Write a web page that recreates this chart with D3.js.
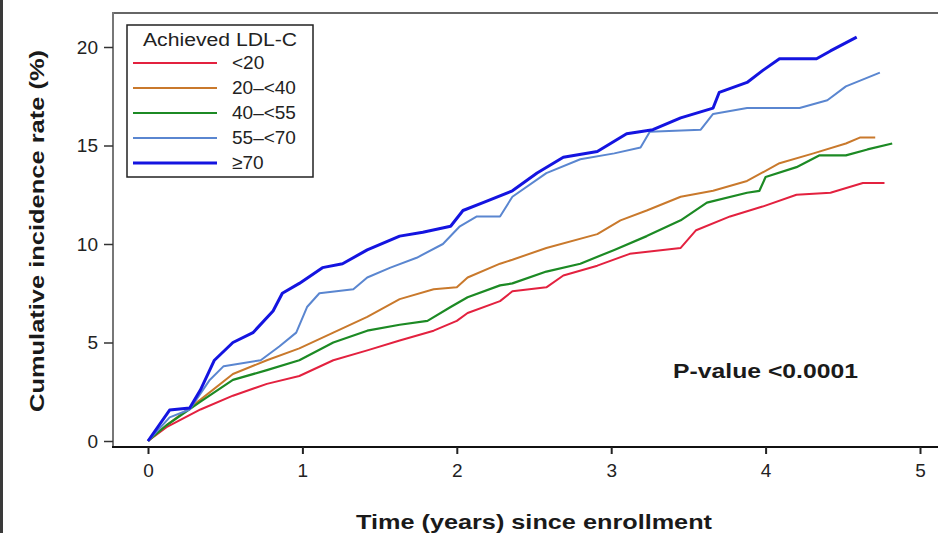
<!DOCTYPE html>
<html>
<head>
<meta charset="utf-8">
<script src="https://cdn.jsdelivr.net/npm/d3@7"></script>
<style>
  body { margin: 0; background: #fff; }
  svg { display: block; font-family: "Liberation Sans", Arial, sans-serif; }
</style>
</head>
<body>
<div id="chart"></div>
<script>
// Data (time in years, cumulative incidence in %)
const groups = ["<20", "20\u2013<40", "40\u2013<55", "55\u2013<70", "\u226570"];
const colors = ["#e3213f", "#c9792c", "#1c8a24", "#5a86d0", "#1414e0"];
const widths = [2, 2, 2.2, 2, 3];

const tRed = [0, 0.12, 0.34, 0.55, 0.77, 0.98, 1.2, 1.42, 1.63, 1.85, 2.0, 2.07, 2.28, 2.36, 2.58, 2.69, 2.91, 3.12, 3.45, 3.55, 3.77, 3.98, 4.2, 4.42, 4.63, 4.77];
const vRed = [0, 0.7, 1.6, 2.3, 2.9, 3.3, 4.1, 4.6, 5.1, 5.6, 6.1, 6.5, 7.1, 7.6, 7.8, 8.4, 8.9, 9.5, 9.8, 10.7, 11.4, 11.9, 12.5, 12.6, 13.1, 13.1];

const tOrange = [0, 0.12, 0.34, 0.55, 0.77, 0.98, 1.2, 1.42, 1.63, 1.85, 2.0, 2.07, 2.28, 2.36, 2.58, 2.91, 3.06, 3.23, 3.45, 3.66, 3.88, 4.09, 4.31, 4.52, 4.61, 4.71];
const vOrange = [0, 0.8, 2.1, 3.4, 4.1, 4.7, 5.5, 6.3, 7.2, 7.7, 7.8, 8.3, 9.0, 9.2, 9.8, 10.5, 11.2, 11.7, 12.4, 12.7, 13.2, 14.1, 14.6, 15.1, 15.4, 15.4];

const tGreen = [0, 0.12, 0.34, 0.55, 0.77, 0.98, 1.2, 1.42, 1.63, 1.81, 1.96, 2.07, 2.28, 2.36, 2.58, 2.8, 3.02, 3.23, 3.45, 3.62, 3.88, 3.96, 4.0, 4.2, 4.35, 4.52, 4.66, 4.82];
const vGreen = [0, 0.8, 2.0, 3.1, 3.6, 4.1, 5.0, 5.6, 5.9, 6.1, 6.8, 7.3, 7.9, 8.0, 8.6, 9.0, 9.7, 10.4, 11.2, 12.1, 12.6, 12.7, 13.4, 13.9, 14.5, 14.5, 14.8, 15.1];

const tLight = [0, 0.14, 0.27, 0.4, 0.49, 0.73, 0.85, 0.96, 1.03, 1.11, 1.33, 1.42, 1.57, 1.74, 1.91, 2.02, 2.13, 2.28, 2.36, 2.58, 2.8, 3.02, 3.19, 3.25, 3.58, 3.66, 3.88, 4.22, 4.4, 4.52, 4.74];
const vLight = [0, 1.2, 1.6, 3.1, 3.8, 4.1, 4.8, 5.5, 6.8, 7.5, 7.7, 8.3, 8.8, 9.3, 10.0, 10.9, 11.4, 11.4, 12.4, 13.6, 14.3, 14.6, 14.9, 15.7, 15.8, 16.6, 16.9, 16.9, 17.3, 18.0, 18.7];

const tBlue = [0, 0.14, 0.27, 0.34, 0.43, 0.55, 0.68, 0.81, 0.87, 0.98, 1.13, 1.26, 1.42, 1.63, 1.78, 1.96, 2.04, 2.17, 2.36, 2.52, 2.69, 2.91, 3.1, 3.27, 3.45, 3.66, 3.7, 3.88, 3.98, 4.09, 4.33, 4.42, 4.59];
const vBlue = [0, 1.57, 1.67, 2.6, 4.1, 5.0, 5.5, 6.6, 7.5, 8.0, 8.8, 9.0, 9.7, 10.4, 10.6, 10.9, 11.7, 12.1, 12.7, 13.6, 14.4, 14.7, 15.6, 15.8, 16.4, 16.9, 17.7, 18.2, 18.8, 19.4, 19.4, 19.8, 20.5];

const xTicks = [0, 1, 2, 3, 4, 5];
const yTicks = [0, 5, 10, 15, 20];

const series = [
  d3.zip(tRed, vRed),
  d3.zip(tOrange, vOrange),
  d3.zip(tGreen, vGreen),
  d3.zip(tLight, vLight),
  d3.zip(tBlue, vBlue)
];

const width = 938, height = 533;
const svg = d3.select("#chart").append("svg")
  .attr("width", width)
  .attr("height", height);

const x = d3.scaleLinear().domain([0, 5]).range([148, 920]);
const y = d3.scaleLinear().domain([0, 20]).range([441, 47]);

// dark strip on the left edge
svg.append("rect")
  .attr("x", 0).attr("y", 0)
  .attr("width", 3).attr("height", height)
  .attr("fill", "#3a3a3a");

// plot frame
svg.append("line")
  .attr("x1", 113).attr("x2", width).attr("y1", 13).attr("y2", 13)
  .attr("stroke", "#666").attr("stroke-width", 2);
svg.append("line")
  .attr("x1", 113).attr("x2", 113).attr("y1", 12).attr("y2", 447)
  .attr("stroke", "#777").attr("stroke-width", 2);

// x axis
const xAxis = svg.append("g")
  .attr("transform", "translate(0,447)")
  .call(d3.axisBottom(x).tickValues(xTicks).tickFormat(d3.format("d")).tickSize(7).tickPadding(10));
xAxis.select(".domain").attr("d", `M112,0H${width}`).attr("stroke", "#111").attr("stroke-width", 2);
xAxis.selectAll(".tick line").attr("stroke", "#222").attr("stroke-width", 2);
xAxis.selectAll("text").attr("font-size", 19).attr("fill", "#222");

// y axis
const yAxis = svg.append("g")
  .attr("transform", "translate(113,0)")
  .call(d3.axisLeft(y).tickValues(yTicks).tickSize(9).tickPadding(6));
yAxis.select(".domain").remove();
yAxis.selectAll(".tick line").attr("stroke", "#333").attr("stroke-width", 1.5);
yAxis.selectAll("text").attr("font-size", 19).attr("fill", "#222");

// axis titles
svg.append("text")
  .attr("x", 534).attr("y", 529)
  .attr("text-anchor", "middle")
  .attr("font-size", 21).attr("font-weight", "bold").attr("fill", "#1a1a1a")
  .attr("textLength", 356).attr("lengthAdjust", "spacingAndGlyphs")
  .text("Time (years) since enrollment");

svg.append("text")
  .attr("transform", "translate(44,231) rotate(-90)")
  .attr("text-anchor", "middle")
  .attr("font-size", 21).attr("font-weight", "bold").attr("fill", "#1a1a1a")
  .attr("textLength", 362).attr("lengthAdjust", "spacingAndGlyphs")
  .text("Cumulative incidence rate (%)");

// curves
const line = d3.line()
  .x(d => x(d[0]))
  .y(d => y(d[1]));

svg.selectAll(".curve")
  .data(series)
  .enter()
  .append("path")
  .attr("class", "curve")
  .attr("d", line)
  .attr("fill", "none")
  .attr("stroke", (d, i) => colors[i])
  .attr("stroke-width", (d, i) => widths[i])
  .attr("stroke-linejoin", "round");

// p-value
svg.append("text")
  .attr("x", 673).attr("y", 378)
  .attr("font-size", 21).attr("font-weight", "bold").attr("fill", "#1a1a1a")
  .attr("textLength", 185).attr("lengthAdjust", "spacingAndGlyphs")
  .text("P-value <0.0001");

// legend
const legend = svg.append("g")
  .attr("transform", "translate(127,25)");

legend.append("rect")
  .attr("width", 186).attr("height", 152)
  .attr("fill", "#fff").attr("stroke", "#222").attr("stroke-width", 1.5);

legend.append("text")
  .attr("x", 93).attr("y", 21)
  .attr("text-anchor", "middle")
  .attr("font-size", 18).attr("fill", "#222")
  .attr("textLength", 154).attr("lengthAdjust", "spacingAndGlyphs")
  .text("Achieved LDL-C");

const legendItem = legend.selectAll(".legend-item")
  .data(groups)
  .enter()
  .append("g")
  .attr("class", "legend-item")
  .attr("transform", (d, i) => `translate(0, ${38 + i * 25})`);

legendItem.append("line")
  .attr("x1", 6).attr("x2", 90)
  .attr("stroke", (d, i) => colors[i])
  .attr("stroke-width", (d, i) => widths[i]);

legendItem.append("text")
  .attr("x", 105).attr("y", 6)
  .attr("font-size", 19).attr("fill", "#222")
  .text(d => d);
</script>
</body>
</html>
